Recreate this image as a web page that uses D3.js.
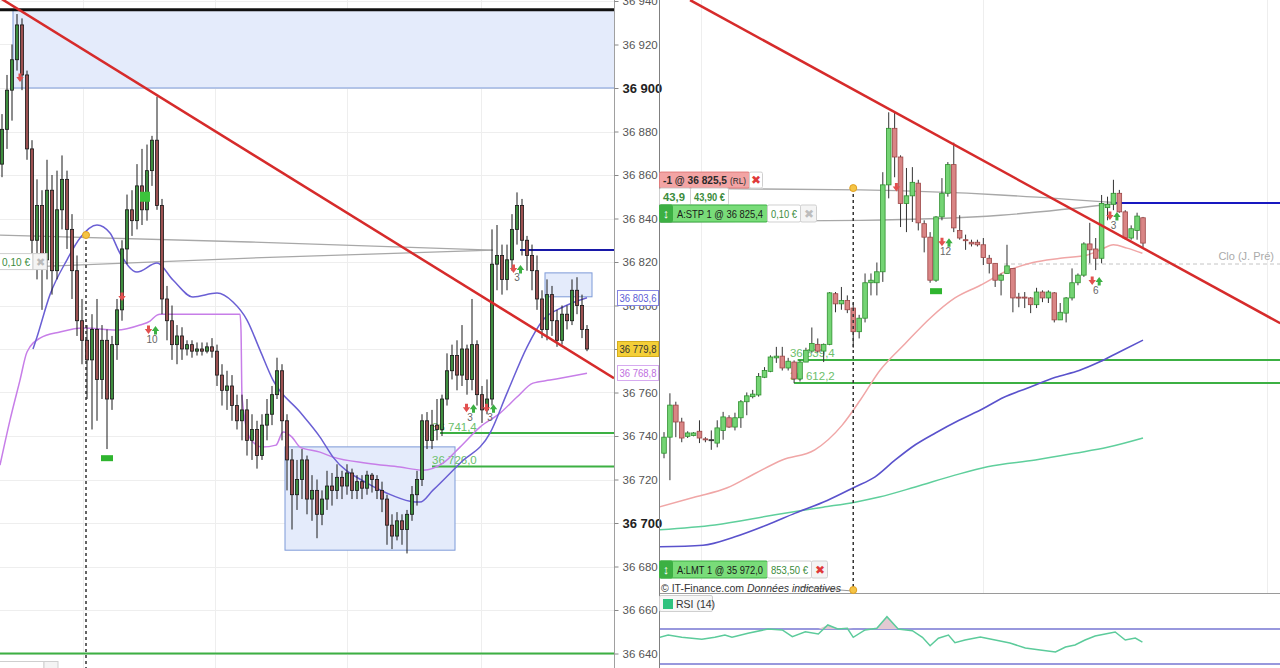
<!DOCTYPE html>
<html><head><meta charset="utf-8">
<script src="https://cdn.jsdelivr.net/npm/d3@7"></script>
<style>
html,body{margin:0;padding:0;background:#fff;overflow:hidden}
svg{display:block;font-family:"Liberation Sans",Arial,sans-serif}
</style></head>
<body><svg id="c" width="1280" height="668"></svg>
<script>
// ================= DATA =================
// Left panel (short timeframe) candles: [open, high, low, close]
const leftCandles = [
[36865,36888,36859,36881],[36881,36906,36872,36899],[36899,36920,36885,36913],[36913,36934,36908,36929],
[36929,36932,36899,36906],[36906,36908,36867,36872],[36872,36876,36821,36830],[36830,36858,36812,36846],
[36846,36853,36798,36821],[36821,36867,36812,36853],[36853,36860,36805,36816],[36816,36862,36812,36844],
[36844,36869,36835,36858],[36858,36862,36826,36835],[36835,36842,36803,36816],[36816,36823,36786,36793],
[36793,36803,36773,36784],[36784,36791,36757,36775],[36775,36796,36743,36789],[36789,36803,36747,36766],
[36766,36791,36757,36784],[36784,36789,36734,36757],[36757,36786,36752,36782],[36782,36803,36775,36798],
[36798,36830,36793,36826],[36826,36851,36819,36844],[36844,36853,36832,36839],[36839,36865,36835,36855],
[36855,36872,36837,36844],[36844,36874,36839,36862],[36862,36878,36855,36876],[36876,36896,36844,36846],
[36846,36849,36796,36803],[36803,36809,36784,36793],[36793,36800,36775,36782],[36782,36791,36773,36786],
[36786,36790,36775,36780],[36780,36784,36777,36782],[36782,36784,36776,36779],[36779,36783,36777,36780],
[36780,36783,36777,36779],[36779,36783,36778,36781],[36781,36785,36776,36779],[36779,36782,36763,36768],
[36768,36773,36754,36761],[36761,36770,36752,36763],[36763,36768,36747,36754],[36754,36759,36743,36747],
[36747,36759,36738,36752],[36752,36757,36731,36738],[36738,36750,36729,36743],[36743,36747,36725,36731],
[36731,36750,36729,36745],[36745,36757,36738,36750],[36750,36763,36745,36759],[36759,36776,36757,36770],
[36770,36773,36738,36747],[36747,36750,36715,36729],[36729,36734,36697,36713],[36713,36729,36706,36720],
[36720,36734,36711,36729],[36729,36731,36704,36711],[36711,36722,36701,36715],[36715,36720,36693,36704],
[36704,36715,36699,36711],[36711,36724,36706,36717],[36717,36723,36708,36715],[36715,36727,36711,36721],
[36721,36724,36711,36717],[36717,36727,36713,36723],[36723,36725,36711,36715],[36715,36722,36711,36719],
[36719,36722,36711,36716],[36716,36724,36713,36722],[36722,36723,36714,36720],[36720,36722,36711,36715],
[36715,36719,36705,36711],[36711,36713,36690,36699],[36699,36704,36688,36694],[36694,36705,36692,36701],
[36701,36704,36690,36697],[36697,36706,36686,36704],[36704,36717,36701,36713],[36713,36724,36708,36720],
[36720,36750,36717,36747],[36747,36751,36734,36738],[36738,36752,36734,36745],[36745,36757,36738,36743],
[36743,36759,36740,36757],[36757,36778,36754,36770],[36770,36782,36766,36777],[36777,36784,36761,36768],
[36768,36791,36763,36780],[36780,36782,36759,36766],[36766,36803,36761,36782],[36782,36784,36754,36759],
[36759,36763,36746,36752],[36752,36766,36750,36757],[36757,36835,36754,36819],[36819,36837,36807,36823],
[36823,36828,36805,36812],[36812,36828,36807,36821],[36821,36842,36816,36835],[36835,36852,36828,36846],
[36846,36849,36823,36830],[36830,36832,36816,36823],[36823,36828,36807,36816],[36816,36823,36798,36803],
[36803,36807,36785,36789],[36789,36812,36784,36805],[36805,36809,36786,36793],[36793,36798,36781,36784],
[36784,36800,36782,36796],[36796,36800,36789,36793],[36793,36812,36791,36807],[36807,36813,36796,36800],
[36800,36805,36785,36789],[36789,36791,36779,36780]
];
// Right panel (longer timeframe) candles: [open, high, low, close]
const rightCandles = [
[36529,36554,36523,36548],[36548,36600,36497,36586],[36586,36590,36548,36566],[36566,36571,36542,36547],
[36549,36555,36547,36553],[36550,36554,36549,36553],[36555,36568,36541,36547],[36546,36548,36542,36545],
[36545,36556,36533,36545],[36541,36568,36536,36559],[36556,36578,36545,36572],[36571,36574,36559,36560],
[36560,36577,36556,36571],[36571,36592,36559,36590],[36590,36601,36574,36597],[36596,36604,36594,36599],
[36598,36624,36596,36620],[36619,36631,36618,36627],[36626,36645,36625,36643],[36642,36655,36636,36644],
[36644,36655,36627,36630],[36630,36642,36627,36638],[36637,36639,36612,36617],[36617,36639,36614,36637],
[36637,36654,36637,36651],[36650,36678,36648,36659],[36658,36665,36648,36650],[36650,36659,36637,36658],
[36658,36720,36657,36719],[36718,36720,36696,36706],[36706,36726,36699,36710],[36710,36716,36695,36699],
[36701,36707,36654,36673],[36673,36693,36665,36689],[36689,36742,36684,36731],[36731,36742,36716,36734],
[36731,36755,36716,36744],[36744,36862,36732,36847],[36847,36933,36831,36914],[36914,36933,36856,36880],
[36880,36882,36797,36825],[36825,36867,36791,36834],[36834,36868,36803,36850],[36849,36853,36793,36802],
[36801,36805,36767,36785],[36785,36791,36731,36734],[36734,36810,36732,36809],[36809,36855,36805,36837],
[36837,36874,36833,36871],[36871,36897,36791,36796],[36793,36811,36782,36784],[36782,36788,36770,36781],
[36779,36782,36774,36777],[36779,36782,36774,36776],[36776,36784,36752,36761],[36760,36764,36742,36754],
[36754,36754,36726,36734],[36734,36742,36716,36740],[36742,36776,36742,36751],[36748,36748,36696,36713],
[36714,36719,36702,36713],[36714,36720,36701,36713.5],[36713,36714,36695,36705],[36705,36725,36701,36720],
[36720,36722,36708,36713],[36713,36722,36707,36720],[36719,36720,36684,36687],[36687,36707,36687,36696],
[36695,36714,36684,36713],[36713,36748,36710,36731],[36731,36742,36728,36740],[36740,36779,36738,36777],
[36777,36802,36754,36770],[36771,36784,36746,36760],[36760,36835,36754,36825],[36820,36833,36805,36824],
[36824,36853,36817,36837],[36837,36841,36814,36815],[36815,36817,36782,36784],[36784,36799,36782,36795],
[36793,36814,36782,36810],[36808,36809,36773,36778]
];
// Left axis tick labels
const leftTicks = [36640,36660,36680,36700,36720,36740,36760,36780,36800,36820,36840,36860,36880,36900,36920,36940];
const boldTicks = [36700, 36900];
const hiddenTicks = [36780];   // fully covered by the last-price tag
// Moving averages [index, price]
const leftMaBlue = [[6.2,36780],[7,36785.5],[9.6,36805],[13,36821],[15.6,36831],[19,36837],[21.6,36833.3],[23.6,36824],
 [27,36815.4],[31,36819.5],[34.2,36811.7],[38.2,36803.9],[43,36805.7],[46.2,36801.6],[49,36793.3],[51.6,36779.5],
 [54.2,36765.7],[59.6,36751],[63.6,36739.5],[66.2,36730.3],[73,36718.3],[77,36713.7],[81.6,36710],[83.6,36709.6],
 [86.2,36715.1],[91.6,36727.5],[97.6,36741.3],[101,36759.7],[105,36780.9],[108.2,36793.3],[112.2,36799.3],[117,36803.6]];
const leftMaPurple = [[-0.4,36726.6],[1.6,36747.3],[3.6,36765.7],[5,36778.6],[7.6,36785],[11.6,36787.8],[16.2,36789.6],
 [23,36788.7],[27.6,36791],[29.6,36792.8],[31,36795.6],[31.6,36796],[47.6,36796],[47.8,36788.7],[48,36757.9],
 [49.6,36739],[52,36734.9],[54.8,36735.8],[56.2,36741.8],[58,36739.5],[59.6,36734.9],[63.6,36732.6],[66.2,36730.3],
 [73,36727.5],[79.6,36725.7],[84.2,36724.3],[88.2,36727.5],[91.6,36734.9],[95.6,36744.1],[99.6,36750.5],[103,36757.9],
 [106.2,36764.3],[109.6,36765.7],[113,36767.1],[117,36768.8]];
const rightMaPink = [[-1.5,36464],[5.25,36477],[10.7,36488],[15.4,36505],[20,36521],[25.5,36533],[30.1,36562],[33.2,36592],
 [36.5,36627],[40.8,36659],[45,36689],[49.2,36713],[53.5,36728],[57.7,36744],[62.4,36755],[67,36760],[71.6,36764],
 [73.8,36770],[76,36776],[78.3,36772],[80.9,36766]];
const rightMaBlue = [[-1.5,36418],[6.6,36420],[12,36430],[17.4,36444],[22.2,36458],[27.6,36473],[32.3,36489],[35.7,36501],
 [39.1,36521],[42.5,36539],[45.9,36553],[49.9,36568],[54,36582],[57.4,36595],[61.4,36606],[66.2,36619],[70.2,36627],
 [73.6,36637],[77,36649],[81,36663]];
const rightMaTeal = [[-1.5,36438],[8.6,36444],[18.8,36456],[26.9,36465],[32.3,36471],[36.4,36477],[42.5,36489],[49.2,36503],
 [54.7,36513],[62.8,36521],[69.5,36529],[75,36536],[81,36547]];
// RSI (14) readings [index, value]
const rsiValues = [[-0.7,60.5],[0.7,63.1],[3,60.5],[6.4,58.2],[8.6,60.5],[10.3,63.1],[11.5,60.5],[14.2,65.1],[17.6,70],
 [20,68.9],[21.7,61.2],[23.9,66.9],[26.1,64.3],[27.7,74.6],[29.4,70],[31,70.8],[32,60.5],[34,68.9],[36,70.8],[37.7,84.1],
 [39.6,70],[42,68.1],[43.7,60.5],[45,50.9],[46.4,59.4],[48.1,63.1],[49.2,54.3],[50.9,57.4],[53.5,60.9],[56,57.4],
 [58.5,54],[61.1,48.3],[63.6,46],[66.2,43.7],[67.9,49.4],[69.5,51.7],[71.2,57.4],[72.9,62],[74.6,64.3],[76.3,66.6],
 [78,57.4],[79.7,59.7],[80.9,55.1]];
const rsiLevels = [70, 30];
// Trend lines [index, price]
const leftTrend = [[-0.4,36941.4],[122.4,36766.6]];
const rightTrend = [[4.4,37066],[104.2,36683]];
// Order link curves [index, price]
const leftOrderUpper = [[-0.4,36832.4],[49.6,36829.2],[98.2,36825.5]];
const leftOrderLower = [[-0.4,36817.2],[49.6,36821.8],[98.2,36825.5]];
const rightOrderUpper = [[-0.85,36843.2],[33.2,36841],[56.9,36835],[77.3,36825.5]];
const rightOrderLower = [[-0.85,36803],[33.2,36805],[56.9,36811],[77.3,36825.5]];
// Levels
const positionPrice = 36825.5, stopPrice = 36825.4, limitPrice = 35972.0;
const leftGreenLevels = [[36741.4, 87.6],[36726.0, 86]];   // [price, start index]
const leftBottomLevel = 36640;
const leftTopLevel = 36936;
const rightGreenLevels = [[36639.4, 22.6],[36612.2, 22]];
const prevClose = 36753.2;
// Zones [i0, i1, pTop, pBottom]
const leftZones = [[2.2,123,36936,36900],[56.6,90.6,36735,36687.5],[108.6,118,36815,36804]];
// Price tags on left axis
const axisTags = [36803.6, 36779.8, 36768.8];
// Signals [index, price, label]
const leftSignals = [[30,36788.7,"10"],[93.6,36752.8,"3"],[97.6,36752.8,"3"],[103,36816.8,"3"]];
const rightSignals = [[47.6,36779,"12"],[76,36810,"3"],[73,36733,"6"]];
const leftDownMarks = [[3.6,36904.6],[24,36803.9]];
const leftSquares = [[28.6,36850]];
const leftBars = [[21,36729.8]];
const rightDownMarks = [[39.3,36844]];
const rightBars = [[46,36721]];
const dashIdxLeft = 16.8, dashIdxRight = 32;
const leftVGrid = [16.2,42.6,69,95.8];
const rightVGrid = [6.3,54,102];
const pnlPts = 43.9, pnlEur = 43.90, stopFee = 0.10, limitEur = 853.50;

// ================= SCALES =================
const fr = d3.formatLocale({decimal:",", thousands:" ", grouping:[3], currency:["","\u00a0€"]});
const f0 = fr.format(",.0f"), f1 = fr.format(",.1f"), f2e = fr.format(",.2f");
const xL = d3.scaleLinear().domain([0,117]).range([2,587]);
const yL = d3.scaleLinear().domain([36700,36900]).range([523,88]);
const xR = d3.scaleLinear().domain([0,81]).range([664,1143]);
const yR = d3.scaleLinear().domain([36612.2,36825.5]).range([383,203]);
const yRSI = d3.scaleLinear().domain([30,70]).range([664,629]);

const svg = d3.select("#c");
const defs = svg.append("defs");
defs.append("clipPath").attr("id","clipL").append("rect").attr("x",0).attr("y",0).attr("width",614).attr("height",668);
defs.append("clipPath").attr("id","clipR").append("rect").attr("x",660).attr("y",0).attr("width",620).attr("height",593);
defs.append("clipPath").attr("id","clipRSI").append("rect").attr("x",660).attr("y",594).attr("width",620).attr("height",74);

const GREEN="#3cb043", FONT="'Liberation Sans', Arial, sans-serif";

function drawCandles(g, data, x, y, bw, st){
  const c = g.append("g").selectAll("g").data(data).join("g");
  c.append("line").attr("x1",(d,i)=>x(i)).attr("x2",(d,i)=>x(i))
    .attr("y1",d=>y(d[1])).attr("y2",d=>y(d[2])).attr("stroke",st.wick).attr("stroke-width",1);
  c.append("rect").attr("x",(d,i)=>x(i)-bw/2).attr("width",bw)
    .attr("y",d=>y(Math.max(d[0],d[3])))
    .attr("height",d=>Math.max(1,Math.abs(y(d[0])-y(d[3]))))
    .attr("fill",d=>d[3]>d[0]?st.up:(d[3]<d[0]?st.down:st.wick))
    .attr("stroke",d=>d[3]>d[0]?st.upS:(d[3]<d[0]?st.downS:st.wick)).attr("stroke-width",0.8);
}
function arrowDown(cx,cy){return `M${cx-1.5},${cy-4.5}h3v3.5h2.2l-3.7,5l-3.7,-5h2.2z`;}
function arrowUp(cx,cy){return `M${cx-1.5},${cy+4.5}h3v-3.5h2.2l-3.7,-5l-3.7,5h2.2z`;}
function signals(g,x,y,list){
  list.forEach(s=>{
    const cx=x(s[0]), cy=y(s[1]);
    g.append("path").attr("d",arrowDown(cx-3.5,cy)).attr("fill","#e2504f");
    g.append("path").attr("d",arrowUp(cx+3.5,cy)).attr("fill","#3cb043");
    g.append("text").attr("x",cx).attr("y",cy+12.5).attr("text-anchor","middle")
      .attr("font-size",10).attr("fill","#666").text(s[2]);
  });
}
function lineGen(x,y,curve){return d3.line().x(d=>x(d[0])).y(d=>y(d[1])).curve(curve||d3.curveMonotoneX);}

// ================= LEFT PANEL =================
const gL = svg.append("g").attr("clip-path","url(#clipL)");
gL.selectAll(".hg").data(leftTicks).join("line").attr("x1",0).attr("x2",614)
  .attr("y1",d=>Math.round(yL(d))+0.5).attr("y2",d=>Math.round(yL(d))+0.5).attr("stroke","#eeeeee");
gL.selectAll(".vg").data(leftVGrid).join("line").attr("x1",d=>Math.round(xL(d))+0.5).attr("x2",d=>Math.round(xL(d))+0.5)
  .attr("y1",0).attr("y2",668).attr("stroke","#eeeeee");
// zones
gL.selectAll(".zone").data(leftZones).join("rect")
  .attr("x",d=>xL(d[0])).attr("width",d=>xL(d[1])-xL(d[0]))
  .attr("y",d=>yL(d[2])).attr("height",d=>yL(d[3])-yL(d[2]))
  .attr("fill","#e4ebfb").attr("stroke","#7d9ad8").attr("stroke-width",1);
// levels
gL.append("line").attr("x1",0).attr("x2",614).attr("y1",yL(leftTopLevel)).attr("y2",yL(leftTopLevel))
  .attr("stroke","#111").attr("stroke-width",3);
gL.append("line").attr("x1",0).attr("x2",614).attr("y1",yL(leftBottomLevel)).attr("y2",yL(leftBottomLevel))
  .attr("stroke",GREEN).attr("stroke-width",2);
leftGreenLevels.forEach((l,k)=>{
  gL.append("text").attr("x",xL(86)).attr("y",yL(l[0])-2).attr("font-size",11.5).attr("fill","#6cc06c").text(f1(l[0]));
  gL.append("line").attr("x1",xL(l[1])).attr("x2",614).attr("y1",yL(l[0])).attr("y2",yL(l[0]))
    .attr("stroke",GREEN).attr("stroke-width",2);
});
// order curves
[leftOrderUpper,leftOrderLower].forEach(d=>gL.append("path").attr("d",lineGen(xL,yL,d3.curveNatural)(d))
  .attr("fill","none").attr("stroke","#a8a8a8").attr("stroke-width",1.3));
gL.append("line").attr("x1",xL(103.6)).attr("x2",614).attr("y1",yL(positionPrice)).attr("y2",yL(positionPrice))
  .attr("stroke","#1818a8").attr("stroke-width",2);
// MAs
gL.append("path").attr("d",lineGen(xL,yL)(leftMaPurple)).attr("fill","none").attr("stroke","#c77ee8").attr("stroke-width",1.5);
gL.append("path").attr("d",lineGen(xL,yL)(leftMaBlue)).attr("fill","none").attr("stroke","#6a5fd4").attr("stroke-width",1.5);
// dashed
gL.append("line").attr("x1",xL(dashIdxLeft)).attr("x2",xL(dashIdxLeft)).attr("y1",yL(leftOrderUpper[0][1])).attr("y2",668)
  .attr("stroke","#333").attr("stroke-width",1.5).attr("stroke-dasharray","3,3");
// candles
drawCandles(gL,leftCandles,xL,yL,3.2,{wick:"#1a1a1a",up:"#3e8e3e",upS:"#1a1a1a",down:"#9c5050",downS:"#1a1a1a"});
// trend
gL.append("path").attr("d",lineGen(xL,yL,d3.curveLinear)(leftTrend)).attr("stroke","#d62b2b").attr("stroke-width",2.5).attr("fill","none");
gL.append("circle").attr("cx",xL(dashIdxLeft)).attr("cy",yL(leftOrderUpper[0][1])).attr("r",3.5).attr("fill","#f5c445").attr("stroke","#e0a020");
// markers
signals(gL,xL,yL,leftSignals);
leftDownMarks.forEach(m=>gL.append("path").attr("d",arrowDown(xL(m[0]),yL(m[1]))).attr("fill","#e2504f"));
leftSquares.forEach(m=>gL.append("rect").attr("x",xL(m[0])-5).attr("y",yL(m[1])-5).attr("width",10).attr("height",10).attr("fill","#3cc43c"));
leftBars.forEach(m=>gL.append("rect").attr("x",xL(m[0])-6).attr("y",yL(m[1])-3).attr("width",12).attr("height",6).attr("fill","#2fb52f"));
// partial order label (left)
const lbY = yL(leftOrderLower[0][1]);
gL.append("rect").attr("x",-1).attr("y",lbY-14.5).attr("width",34).attr("height",16).attr("fill","#fff").attr("stroke","#cfcfcf");
gL.append("text").attr("x",2).attr("y",lbY-2.5).attr("font-size",10.5).attr("fill","#3c8c3c")
  .attr("textLength",28).attr("lengthAdjust","spacingAndGlyphs").text(f2e(stopFee)+" €");
gL.append("rect").attr("x",33).attr("y",lbY-14.5).attr("width",14).attr("height",16).attr("fill","#f4f4f4").attr("stroke","#cfcfcf");
gL.append("text").attr("x",40).attr("y",lbY-2.5).attr("text-anchor","middle").attr("font-size",11).attr("fill","#bbb").text("✖");
gL.append("rect").attr("x",-1).attr("y",661.5).attr("width",45).attr("height",10).attr("fill","#fff").attr("stroke","#cfcfcf");
gL.append("rect").attr("x",44).attr("y",661.5).attr("width",14).attr("height",10).attr("fill","#f4f4f4").attr("stroke","#cfcfcf");

// ================= LEFT AXIS =================
svg.append("line").attr("x1",614.5).attr("x2",614.5).attr("y1",0).attr("y2",668).attr("stroke","#a0a0a0");
const ax = svg.append("g").attr("transform","translate(614.5,0)")
  .call(d3.axisRight(yL).tickValues(leftTicks).tickSize(4).tickPadding(4).tickFormat(f0));
ax.select(".domain").remove();
ax.selectAll(".tick line").attr("stroke","#888");
ax.selectAll(".tick text").attr("font-family",FONT).attr("font-size",11.5).attr("fill","#555");
ax.selectAll(".tick").filter(d=>boldTicks.includes(d)).select("text")
  .attr("font-weight","bold").attr("font-size",13).attr("fill","#222");
ax.selectAll(".tick").filter(d=>hiddenTicks.includes(d)).select("text").remove();
const tagStyles = [{fill:"#fff",stroke:"#8484e2",color:"#5c5cd6"},{fill:"#f4cf38",stroke:"#d6ae1c",color:"#333"},{fill:"#fff",stroke:"#d6aaf0",color:"#c070e0"}];
axisTags.forEach((p,i)=>{
  const st=tagStyles[i], cy=yL(p);
  svg.append("rect").attr("x",617.5).attr("y",Math.round(cy)-7.5).attr("width",41).attr("height",15)
    .attr("fill",st.fill).attr("stroke",st.stroke);
  svg.append("text").attr("x",619.5).attr("y",Math.round(cy)+4).attr("font-size",11.5).attr("fill",st.color)
    .attr("textLength",37).attr("lengthAdjust","spacingAndGlyphs").text(f1(p));
});

// ================= RIGHT PANEL =================
svg.append("line").attr("x1",659.5).attr("x2",659.5).attr("y1",0).attr("y2",668).attr("stroke","#808080");
const gR = svg.append("g").attr("clip-path","url(#clipR)");
gR.selectAll(".vg").data(rightVGrid).join("line").attr("x1",d=>Math.round(xR(d))+0.5).attr("x2",d=>Math.round(xR(d))+0.5)
  .attr("y1",0).attr("y2",593).attr("stroke","#eeeeee");
rightGreenLevels.forEach(l=>{
  gR.append("text").attr("x",xR(21.3)).attr("y",yR(l[0])-3).attr("font-size",11.5).attr("fill","#6cc06c").text(f1(l[0]));
  gR.append("line").attr("x1",xR(l[1])).attr("x2",1280).attr("y1",yR(l[0])).attr("y2",yR(l[0]))
    .attr("stroke",GREEN).attr("stroke-width",2);
});
gR.append("line").attr("x1",xR(57.5)).attr("x2",1280).attr("y1",yR(prevClose)).attr("y2",yR(prevClose))
  .attr("stroke","#c4c4c4").attr("stroke-width",1).attr("stroke-dasharray","4,3");
gR.append("text").attr("x",1274).attr("y",yR(prevClose)-4).attr("text-anchor","end").attr("font-size",11).attr("fill","#aaa").text("Clo (J. Pré)");
[rightOrderUpper,rightOrderLower].forEach(d=>gR.append("path").attr("d",lineGen(xR,yR,d3.curveNatural)(d))
  .attr("fill","none").attr("stroke","#a8a8a8").attr("stroke-width",1.3));
gR.append("line").attr("x1",xR(75.6)).attr("x2",1280).attr("y1",yR(positionPrice)).attr("y2",yR(positionPrice))
  .attr("stroke","#1818c0").attr("stroke-width",2);
gR.append("path").attr("d",lineGen(xR,yR)(rightMaTeal)).attr("fill","none").attr("stroke","#5fcf9c").attr("stroke-width",1.5);
gR.append("path").attr("d",lineGen(xR,yR)(rightMaBlue)).attr("fill","none").attr("stroke","#5a52cc").attr("stroke-width",1.6);
gR.append("path").attr("d",lineGen(xR,yR)(rightMaPink)).attr("fill","none").attr("stroke","#f0a6a6").attr("stroke-width",1.5);
drawCandles(gR,rightCandles,xR,yR,4.6,{wick:"#333",up:"#74d474",upS:"#2f902f",down:"#d98585",downS:"#9c4646"});
gR.append("path").attr("d",lineGen(xR,yR,d3.curveLinear)(rightTrend)).attr("stroke","#d62b2b").attr("stroke-width",2.5).attr("fill","none");
signals(gR,xR,yR,rightSignals);
rightDownMarks.forEach(m=>gR.append("path").attr("d",arrowDown(xR(m[0]),yR(m[1]))).attr("fill","#e2504f"));
rightBars.forEach(m=>gR.append("rect").attr("x",xR(m[0])-6).attr("y",yR(m[1])-3).attr("width",12).attr("height",6).attr("fill","#2fb52f"));

// dashed vertical & dots (right)
const dX = xR(dashIdxRight), dTop = yR(rightOrderUpper[0][1]);
svg.append("line").attr("x1",dX).attr("x2",dX).attr("y1",dTop).attr("y2",590)
  .attr("stroke","#333").attr("stroke-width",1.5).attr("stroke-dasharray","3,3");

// ================= RSI PANEL =================
svg.append("line").attr("x1",800).attr("x2",dX).attr("y1",587).attr("y2",591).attr("stroke","#999");
svg.append("line").attr("x1",660).attr("x2",1280).attr("y1",593.5).attr("y2",593.5).attr("stroke","#9a9a9a");
const gS = svg.append("g").attr("clip-path","url(#clipRSI)");
gS.selectAll(".lv").data(rsiLevels).join("line").attr("x1",660).attr("x2",1280)
  .attr("y1",d=>yRSI(d)).attr("y2",d=>yRSI(d)).attr("stroke","#7676d2").attr("stroke-width",1.6);
gS.append("path").attr("d",d3.area().x(d=>xR(d[0])).y0(yRSI(70)).y1(d=>yRSI(Math.max(70,d[1])))(rsiValues))
  .attr("fill","#e3c9d2").attr("stroke","none");
gS.append("path").attr("d",lineGen(xR,yRSI,d3.curveLinear)(rsiValues)).attr("fill","none").attr("stroke","#5ccb9b").attr("stroke-width",1.5);
[dTop,590].forEach(cy=>svg.append("circle").attr("cx",dX).attr("cy",cy).attr("r",3.5).attr("fill","#f5c445").attr("stroke","#e0a020"));

// ================= ORDER LABELS (right) =================
const L = svg.append("g").attr("font-family",FONT);
function box(x,y,w,h,fill,stroke){L.append("rect").attr("x",x).attr("y",y).attr("width",w).attr("height",h).attr("fill",fill).attr("stroke",stroke).attr("rx",1.5);}
function txt(x,y,s,o){o=o||{};const t=L.append("text").attr("x",x).attr("y",y).attr("font-size",o.size||10.5).attr("fill",o.color||"#222").text(s);
  if(o.weight)t.attr("font-weight",o.weight); if(o.anchor)t.attr("text-anchor",o.anchor); if(o.italic)t.attr("font-style","italic");
  if(o.len)t.attr("textLength",o.len).attr("lengthAdjust","spacingAndGlyphs"); return t;}
// position label
const r1 = dTop-16;
box(659.5,r1,90,16,"#f3a4a4","#e07c7c");
txt(663,r1+12,"-1 @ "+f1(positionPrice),{color:"#2a2a2a",weight:"bold",len:64});
txt(730,r1+12,"(RL)",{color:"#2a2a2a",size:9.5,len:16});
box(749.5,r1,13,16,"#fff","#d0d0d0");
txt(756,r1+12,"✖",{color:"#e03a3a",anchor:"middle",size:12});
// pnl row
box(659.5,dTop,31,17,"#fff","#d0d0d0");
txt(663,dTop+13,fr.format(",.1f")(pnlPts),{color:"#3c8c3c",weight:"bold",len:22});
box(690.5,dTop,38,17,"#fff","#d0d0d0");
txt(694,dTop+13,f2e(pnlEur)+" €",{color:"#3c8c3c",weight:"bold",len:31});
// stop row
const r3 = yR(rightOrderLower[0][1])-17;
function orderRow(y,label,amt,amtW,xColor){
  box(659.5,y,108,17,"#79dc79","#3cb043");
  box(659.5,y,13,17,"#3cb043","#3cb043");
  txt(666,y+13,"↕",{color:"#fff",anchor:"middle",size:13,weight:"bold"});
  txt(677,y+13,label,{color:"#1a1a1a",len:86});
  box(767.5,y,amtW,17,"#fff","#d0d0d0");
  txt(771,y+13,amt,{color:"#3c8c3c",len:amtW-7});
  box(767.5+amtW,y,16,17,"#f4f4f4","#d0d0d0");
  txt(775.5+amtW,y+13,"✖",{color:xColor,anchor:"middle",size:12});
}
orderRow(r3,"A:STP  1 @ "+f1(stopPrice),f2e(stopFee)+" €",33,"#bdbdbd");
orderRow(561,"A:LMT  1 @ "+f1(limitPrice),f2e(limitEur)+" €",44,"#e03a3a");
// copyright
L.append("rect").attr("x",660).attr("y",580).attr("width",140).attr("height",13).attr("fill","#fff");
const cp = txt(661,592,"© IT-Finance.com ",{color:"#333",size:10.5});
cp.append("tspan").attr("font-style","italic").text("Données indicatives");
// RSI legend
box(659.5,595.5,53,16,"#f7f7f7","#cfcfcf");
L.append("rect").attr("x",663).attr("y",599).attr("width",10).attr("height",10).attr("fill","#2ec27e");
txt(676,608,"RSI (14)",{color:"#333",size:10.5});
</script>
</body></html>
